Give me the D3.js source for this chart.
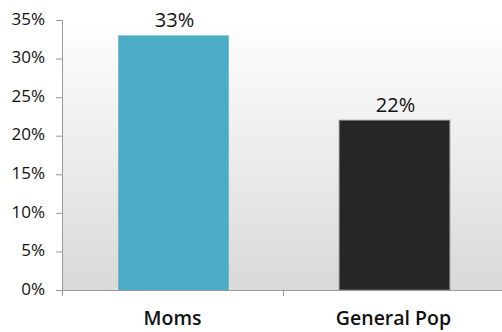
<!DOCTYPE html>
<html>
<head>
<meta charset="utf-8">
<script src="https://cdn.jsdelivr.net/npm/d3@7"></script>
<style>
  body { margin: 0; background: #fff; }
  svg { display: block; font-family: "Open Sans", sans-serif; }
</style>
</head>
<body>
<div id="chart"></div>
<script>
// data
const categories = ["Moms", "General Pop"];
const values = [33, 22];
const barColors = ["#4bacc6", "#262626"];
const yTicks = [0, 5, 10, 15, 20, 25, 30, 35];

const W = 502, H = 332;
const margin = { top: 20, right: 0, bottom: 42, left: 62 };
const innerW = W - margin.left - margin.right;
const innerH = H - margin.top - margin.bottom;
const font = "'Open Sans', sans-serif";

const svg = d3.select("#chart").append("svg")
  .attr("width", W)
  .attr("height", H);

// plot area gradient
const defs = svg.append("defs");
const grad = defs.append("linearGradient")
  .attr("id", "bg")
  .attr("x1", 0).attr("y1", 0).attr("x2", 0).attr("y2", 1);
grad.append("stop").attr("offset", "0%").attr("stop-color", "#ffffff");
grad.append("stop").attr("offset", "100%").attr("stop-color", "#d9d9d9");

const g = svg.append("g").attr("transform", `translate(${margin.left},${margin.top})`);

g.append("rect")
  .attr("width", innerW)
  .attr("height", innerH)
  .attr("fill", "url(#bg)");

const x = d3.scaleBand().domain(categories).range([0, innerW + 2]).paddingInner(0).paddingOuter(0);
const y = d3.scaleLinear().domain([0, 35]).range([innerH, 0]);

// bars
const bw = x.bandwidth() * 0.5;
g.selectAll(".bar")
  .data(values)
  .enter()
  .append("rect")
  .attr("class", "bar")
  .attr("x", (d, i) => x(categories[i]) + (x.bandwidth() - bw) / 2 + 1)
  .attr("y", d => y(d))
  .attr("width", bw)
  .attr("height", d => innerH - y(d))
  .attr("fill", (d, i) => barColors[i])
  .attr("stroke", (d, i) => i === 1 ? "#777" : "none")
  .attr("stroke-width", 1);

// value labels
g.selectAll(".val")
  .data(values)
  .enter()
  .append("text")
  .attr("x", (d, i) => x(categories[i]) + x.bandwidth() / 2 + 2)
  .attr("y", d => y(d) - 8)
  .attr("text-anchor", "middle")
  .attr("font-size", 20)
  .attr("fill", "#111")
  .text(d => d + "%");

// y axis
const yAxis = g.append("g")
  .call(d3.axisLeft(y).tickValues(yTicks).tickFormat(d => d + "%").tickSize(6).tickPadding(11));
yAxis.select(".domain").attr("stroke", "#999").attr("d", `M-6,0.5H0.5V${innerH + 6}`);
yAxis.selectAll(".tick line").attr("stroke", "#999");
yAxis.selectAll("text").attr("font-size", 17).attr("fill", "#111").attr("font-family", font).attr("dy", "0.25em");

// x axis
const xAxis = g.append("g")
  .attr("transform", `translate(0,${innerH})`)
  .call(d3.axisBottom(x).tickSize(0).tickPadding(21));
xAxis.select(".domain").attr("stroke", "#999");
xAxis.selectAll("text")
  .attr("font-size", 19.5)
  .attr("font-weight", 600)
  .attr("fill", "#111")
  .attr("font-family", font);
xAxis.append("line")
  .attr("x1", x("General Pop") + 0.5).attr("x2", x("General Pop") + 0.5)
  .attr("y1", 0).attr("y2", 6)
  .attr("stroke", "#999");
</script>
</body>
</html>
